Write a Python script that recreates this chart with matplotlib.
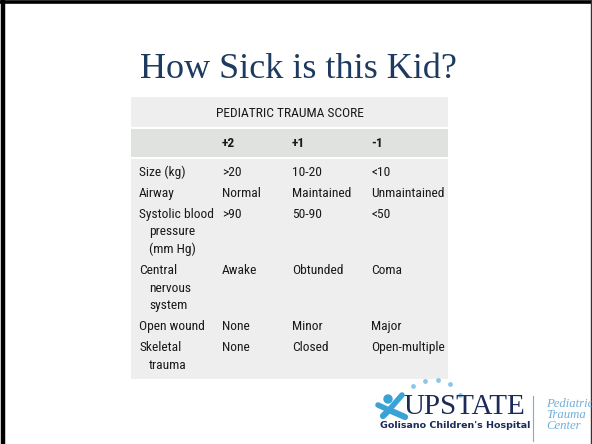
import matplotlib.pyplot as plt
from matplotlib.patches import Rectangle, Circle

# slide content
title = "How Sick is this Kid?"
table_title = "PEDIATRIC TRAUMA SCORE"
scores = ["+2", "+1", "-1"]
row_labels = [
    ["Size (kg)"],
    ["Airway"],
    ["Systolic blood", "pressure", "(mm Hg)"],
    ["Central", "nervous", "system"],
    ["Open wound"],
    ["Skeletal", "trauma"],
]
col_plus2 = [">20", "Normal", ">90", "Awake", "None", "None"]
col_plus1 = ["10-20", "Maintained", "50-90", "Obtunded", "Minor", "Closed"]
col_minus1 = ["<10", "Unmaintained", "<50", "Coma", "Major", "Open-multiple"]

W, H = 592, 444
fig = plt.figure(figsize=(W / 100, H / 100), dpi=100)
ax = fig.add_axes([0, 0, 1, 1])
ax.set_xlim(0, W)
ax.set_ylim(H, 0)
ax.axis("off")

# slide frame
ax.plot([3, 3], [0, H], color="black", lw=3.2, solid_capstyle="butt")
ax.plot([0, W], [2.5, 2.5], color="black", lw=2.6, solid_capstyle="butt")
ax.plot([590.5, 590.5], [0, H], color="#333333", lw=1.0)

ax.text(298, 70, title, ha="center", va="center", fontsize=26,
        family="Liberation Serif", color="#1d3a60")

# table panels
left, right = 131, 448
ax.add_patch(Rectangle((left, 97), right - left, 30, color="#eeeeee", lw=0))
ax.add_patch(Rectangle((left, 129), right - left, 28, color="#e0e2e0", lw=0))
ax.add_patch(Rectangle((left, 159), right - left, 220, color="#eeeeee", lw=0))

narrow = ["Liberation Sans Narrow", "Roboto Condensed", "Open Sans Condensed",
          "Lato", "DejaVu Sans"]
tfont = dict(family=narrow, fontsize=9.7, color="#1a1a1a", va="center")
ax.text((left + right) / 2, 113, table_title, ha="center", **tfont)
col_x = [139, 222, 292, 371]
for x, s in zip(col_x[1:], scores):
    ax.text(x, 143, s, ha="left", weight="bold", **tfont)

y = 172
line_h, row_gap = 17.7, 21
for i, lines in enumerate(row_labels):
    for j, ln in enumerate(lines):
        ax.text(col_x[0] + (10 if j else 0), y + j * line_h, ln, ha="left", **tfont)
    for x, col in zip(col_x[1:], [col_plus2, col_plus1, col_minus1]):
        ax.text(x, y, col[i], ha="left", **tfont)
    y += (len(lines) - 1) * line_h + row_gap

# logo
blue = "#3aa3d6"
light = "#6fb0dc"
dots_x = [413, 425, 438, 450, 460]
dots_y = [386, 381, 380, 384, 395]
ax.scatter(dots_x, dots_y, s=6, color="#8cc6e8", zorder=3)
ax.add_patch(Circle((388, 399), 4, color=blue))
ax.plot([378, 389, 402], [405, 410, 395], color=blue, lw=4, solid_capstyle="round")
ax.plot([383, 389, 405], [416, 410, 417], color=blue, lw=4.5, solid_capstyle="round")
ax.text(403, 414, "UPSTATE", ha="left", va="baseline", fontsize=21,
        family="Liberation Serif", color="#1c2a5a")
ax.text(380, 425, "Golisano Children's Hospital", ha="left", va="center",
        fontsize=6.8, family="DejaVu Sans", weight="bold", color="#1c2a5a")
ax.plot([533, 533], [396, 441], color=light, lw=0.8)
for k, word in enumerate(["Pediatric", "Trauma", "Center"]):
    ax.text(546, 404 + k * 11, word, ha="left", va="center", fontsize=9.2,
            family="Liberation Serif", style="italic", color=light)

fig.savefig("out.png", dpi=100)
